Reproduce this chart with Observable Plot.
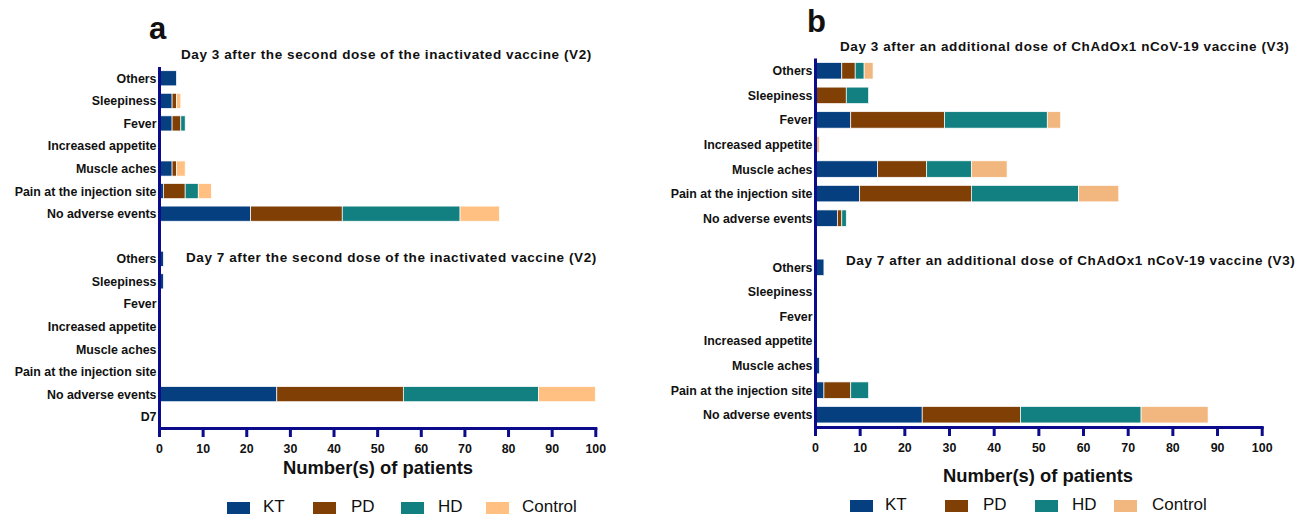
<!DOCTYPE html>
<html>
<head>
<meta charset="utf-8">
<script src="https://cdn.jsdelivr.net/npm/d3@7"></script>
<script src="https://cdn.jsdelivr.net/npm/@observablehq/plot@0.6"></script>
<style>
  html, body { margin: 0; padding: 0; background: #fff; }
  #root { position: relative; width: 1302px; height: 516px; overflow: hidden; font-family: "Liberation Sans", Arial, sans-serif; color: #111; }
  .abs { position: absolute; white-space: nowrap; }
  .panel { position: absolute; top: 0; }
  .title { font-weight: bold; font-size: 13.5px; letter-spacing: 0.58px; }
  .plabel { font-weight: bold; font-size: 31px; line-height: 1; }
  .xlabel { font-weight: bold; font-size: 18.4px; }
  .sw { display: inline-block; width: 23px; height: 12px; }
</style>
</head>
<body>
<div id="root"></div>
<script>
// ---- data ----
const categories = ["Others", "Sleepiness", "Fever", "Increased appetite", "Muscle aches", "Pain at the injection site", "No adverse events"];
const groups = ["KT", "PD", "HD", "Control"];
const xTicks = [0, 10, 20, 30, 40, 50, 60, 70, 80, 90, 100];

// Panel a: inactivated vaccine (V2)
const aDay3KT      = [4, 3, 3, 0, 3, 1, 21];
const aDay3PD      = [0, 1, 2, 0, 1, 5, 21];
const aDay3HD      = [0, 0, 1, 0, 0, 3, 27];
const aDay3Control = [0, 1, 0, 0, 2, 3, 9];
const aDay7KT      = [1, 1, 0, 0, 0, 0, 27];
const aDay7PD      = [0, 0, 0, 0, 0, 0, 29];
const aDay7HD      = [0, 0, 0, 0, 0, 0, 31];
const aDay7Control = [0, 0, 0, 0, 0, 0, 13];

// Panel b: ChAdOx1 nCoV-19 additional dose (V3)
const bDay3KT      = [6, 0, 8, 0, 14, 10, 5];
const bDay3PD      = [3, 7, 21, 0, 11, 25, 1];
const bDay3HD      = [2, 5, 23, 0, 10, 24, 1];
const bDay3Control = [2, 0, 3, 1, 8, 9, 0];
const bDay7KT      = [2, 0, 0, 0, 1, 2, 24];
const bDay7PD      = [0, 0, 0, 0, 0, 6, 22];
const bDay7HD      = [0, 0, 0, 0, 0, 4, 27];
const bDay7Control = [0, 0, 0, 0, 0, 0, 15];

const titles = {
  a3: "Day 3 after the second dose of the inactivated vaccine (V2)",
  a7: "Day 7 after the second dose of the inactivated vaccine (V2)",
  b3: "Day 3 after an additional dose of ChAdOx1 nCoV-19 vaccine (V3)",
  b7: "Day 7 after an additional dose of ChAdOx1 nCoV-19 vaccine (V3)"
};
const xTitle = "Number(s) of patients";

const colorsA = ["#063F80", "#7F3F05", "#128080", "#FFC081"];
const colorsB = ["#063F80", "#7F3F05", "#128080", "#F2B77E"];
const axisColor = "#0B0B8C";

function rows(prefix, series) {
  const out = [];
  categories.forEach((c, i) => {
    groups.forEach((g, j) => {
      const v = series[j][i];
      if (v > 0) out.push({key: prefix + "|" + c, group: g, value: v});
    });
  });
  return out;
}

function makePanel({data, domain, colors, width, height, mL, mR, mT, mB}) {
  return Plot.plot({
    width, height,
    marginLeft: mL, marginRight: mR, marginTop: mT, marginBottom: mB,
    style: {fontFamily: '"Liberation Sans", Arial, sans-serif', background: "white"},
    x: {domain: [0, 100], ticks: xTicks},
    y: {type: "band", domain, paddingInner: 0.33, paddingOuter: 0.165, round: false},
    color: {domain: groups, range: colors},
    marks: [
      Plot.barX(data, Plot.stackX({
        y: "key", x: "value", fill: "group", order: groups,
        stroke: "white", strokeWidth: 0.7
      })),
      Plot.axisY({
        tickSize: 0, tickPadding: 3, fontSize: 12.4, fontWeight: "bold", fill: "#111",
        tickFormat: d => d.includes("|") ? d.split("|")[1] : d,
        label: null
      }),
      Plot.axisX({
        ticks: xTicks, tickSize: 9, tickPadding: 7, fontSize: 12.4, fontWeight: "bold", fill: "#111",
        stroke: axisColor, strokeWidth: 3, label: null
      }),
      Plot.frame({anchor: "bottom", stroke: axisColor, strokeWidth: 3}),
      Plot.ruleX([0], {stroke: axisColor, strokeWidth: 3})
    ]
  });
}

const root = document.getElementById("root");

function add(el, css) { Object.assign(el.style, css); root.appendChild(el); return el; }
function text(cls, str, css) { const d = document.createElement("div"); d.className = "abs " + cls; d.textContent = str; return add(d, css); }

// Panel a
const domainA = [
  ...categories.map(c => "D3|" + c), "gap|",
  ...categories.map(c => "D7|" + c), "D7"
];
const dataA = [
  ...rows("D3", [aDay3KT, aDay3PD, aDay3HD, aDay3Control]),
  ...rows("D7", [aDay7KT, aDay7PD, aDay7HD, aDay7Control])
];
const svgA = makePanel({data: dataA, domain: domainA, colors: colorsA, width: 650, height: 480, mL: 159, mR: 54.7, mT: 67, mB: 52});
const wa = document.createElement("div"); wa.className = "panel"; wa.appendChild(svgA); add(wa, {left: "0px"});

// Panel b
const domainB = [
  ...categories.map(c => "V3D3|" + c), "gap|",
  ...categories.map(c => "V3D7|" + c)
];
const dataB = [
  ...rows("V3D3", [bDay3KT, bDay3PD, bDay3HD, bDay3Control]),
  ...rows("V3D7", [bDay7KT, bDay7PD, bDay7HD, bDay7Control])
];
const svgB = makePanel({data: dataB, domain: domainB, colors: colorsB, width: 651, height: 480, mL: 164, mR: 40.3, mT: 58.5, mB: 53});
const wb = document.createElement("div"); wb.className = "panel"; wb.appendChild(svgB); add(wb, {left: "651px"});

// Titles and labels
text("plabel", "a", {left: "149px", top: "13px"});
text("plabel", "b", {left: "807px", top: "6px"});
text("title", titles.a3, {left: "181px", top: "47px"});
text("title", titles.a7, {left: "186px", top: "250px"});
text("title", titles.b3, {left: "840px", top: "39px"});
text("title", titles.b7, {left: "846px", top: "253px"});
const xa = text("xlabel", xTitle, {left: "378px", top: "457px"}); xa.style.transform = "translateX(-50%)";
const xb = text("xlabel", xTitle, {left: "1038px", top: "465px"}); xb.style.transform = "translateX(-50%)";

// Legends
function legend(items) {
  items.forEach(([sx, tx, y, color, label]) => {
    const s = document.createElement("div"); s.className = "abs sw";
    add(s, {left: sx + "px", top: y + "px", background: color});
    text("", label, {left: tx + "px", top: (y - 5) + "px", fontSize: "17px"});
  });
}
legend(groups.map((g, i) => [[227, 313, 401, 486][i], [263, 351, 438, 522][i], 502, colorsA[i], g]));
legend(groups.map((g, i) => [[850, 945, 1035, 1114][i], [885, 983, 1072, 1152][i], 500, colorsB[i], g]));
</script>
</body>
</html>
